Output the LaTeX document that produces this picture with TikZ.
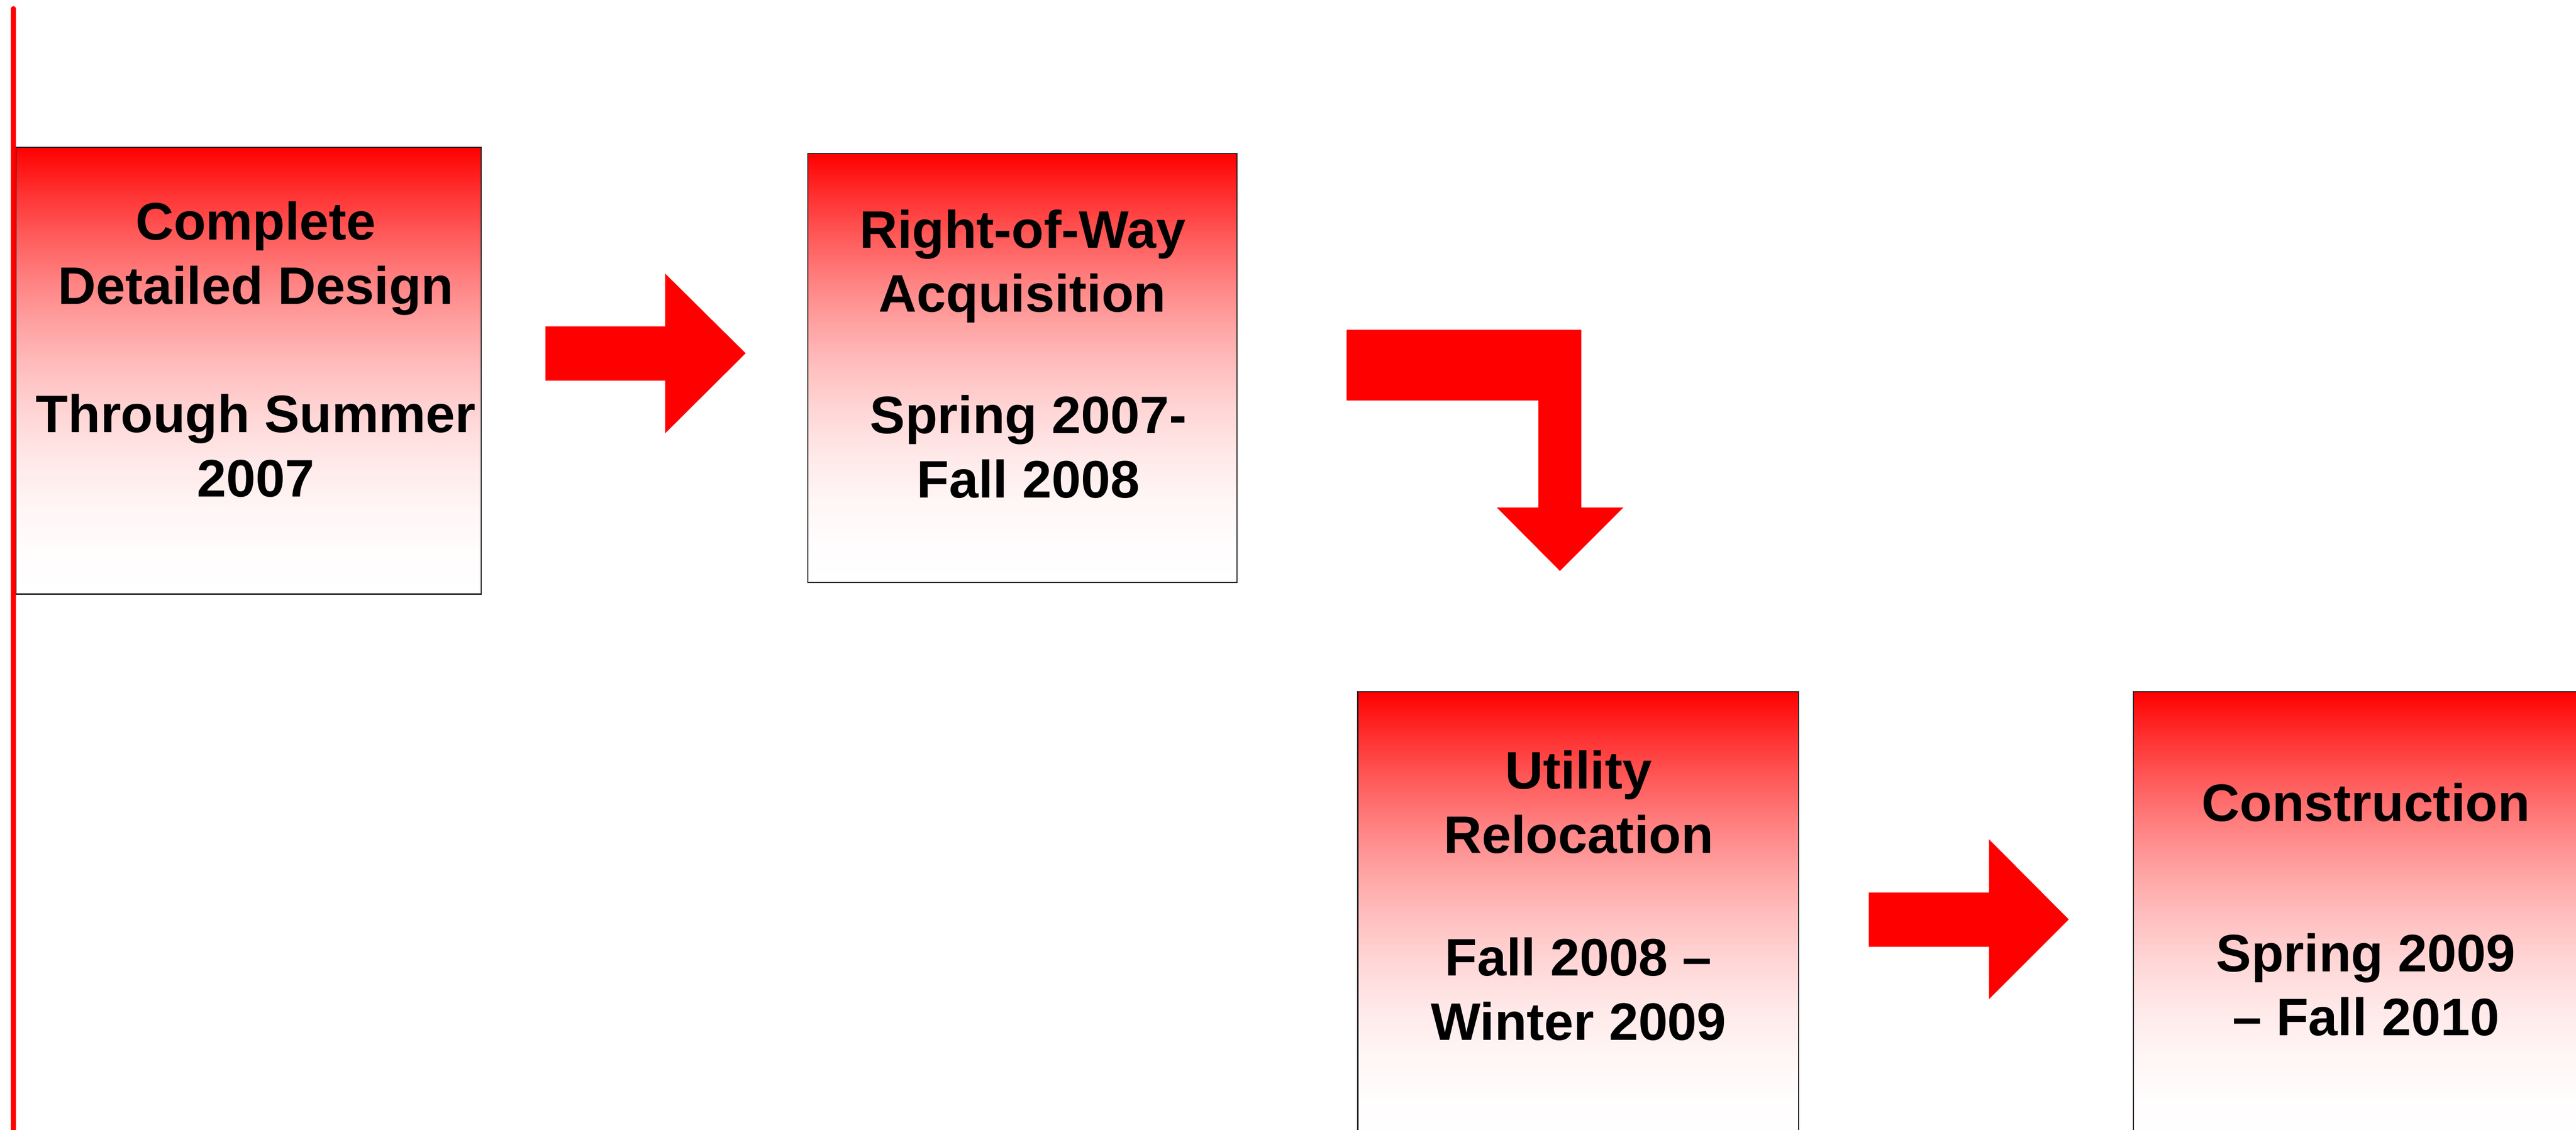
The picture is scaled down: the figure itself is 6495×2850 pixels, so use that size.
\documentclass[tikz,border=0pt]{standalone}
\usepackage{fontspec}
\setmainfont{Liberation Sans}
\pgfdeclareverticalshading{boxgrad}{100bp}{color(0bp)=(white); color(25bp)=(white); color(30bp)=(red!1!white); color(35bp)=(red!4!white); color(40bp)=(red!9!white); color(45bp)=(red!16!white); color(50bp)=(red!25!white); color(55bp)=(red!36!white); color(60bp)=(red!49!white); color(65bp)=(red!64!white); color(70bp)=(red!81!white); color(75bp)=(red); color(100bp)=(red)}
\begin{document}
\begin{tikzpicture}[x=0.1pt,y=-0.1pt,
  stage/.style={rectangle, draw=black!85, line width=0.3pt, shading=boxgrad, inner sep=0pt, anchor=north west},
  stagetext/.style={anchor=base, inner sep=0pt, font=\fontsize{13.3}{16.2}\selectfont\bfseries},
  blockarrow/.style={fill=red, draw=none}]
\useasboundingbox (0,0) rectangle (6495,2850);
\fill[white] (0,0) rectangle (6495,2850);

% stage boxes
\node[stage, minimum width=117.4pt, minimum height=112.7pt] (b1) at (38,370) {};
\node[stage, minimum width=108.2pt, minimum height=108.2pt] (b2) at (2035,386) {};
\node[stage, minimum width=111.1pt, minimum height=113.7pt] (b3) at (3422,1743) {};
\node[stage, minimum width=117.4pt, minimum height=113.7pt] (b4) at (5378,1743) {};

% texts
\node[stagetext] (t1) at (645,605) {\begin{tabular}[t]{@{}c@{}}Complete\\Detailed Design\\[16.2pt]Through Summer\\2007\end{tabular}};
\node[stagetext] (t2) at (2578,625) {\begin{tabular}[t]{@{}c@{}}Right-of-Way\\Acquisition\\[14.4pt]\kern3pt Spring 2007-\\\kern3pt Fall 2008\end{tabular}};
\node[stagetext] (t3) at (3980,1990) {\begin{tabular}[t]{@{}c@{}}Utility\\Relocation\\[14.7pt]Fall 2008 –\\Winter 2009\end{tabular}};
\node[stagetext] (t4) at (5965,2071) {\begin{tabular}[t]{@{}c@{}}Construction\\[21.7pt]Spring 2009\\– Fall 2010\end{tabular}};

% block arrows
\coordinate (a1) at (1375,823);
\fill[blockarrow] (a1) -- (1677,823) -- (1677,690) -- (1880,891) -- (1677,1093) -- (1677,960) -- (1375,960) -- cycle;
\coordinate (a2) at (3395,832);
\fill[blockarrow] (a2) -- (3987,832) -- (3987,1280) -- (4093,1280) -- (3933,1440) -- (3774,1280) -- (3879,1280) -- (3879,1010) -- (3395,1010) -- cycle;
\coordinate (a3) at (4712,2251);
\fill[blockarrow] (a3) -- (5015,2251) -- (5015,2117) -- (5216,2319) -- (5015,2520) -- (5015,2388) -- (4712,2388) -- cycle;

% left red rule
\coordinate (r1) at (34,22);
\coordinate (r2) at (34,2900);
\draw[red, line width=1.3pt, line cap=round] (r1) -- (r2);
\end{tikzpicture}
\end{document}
